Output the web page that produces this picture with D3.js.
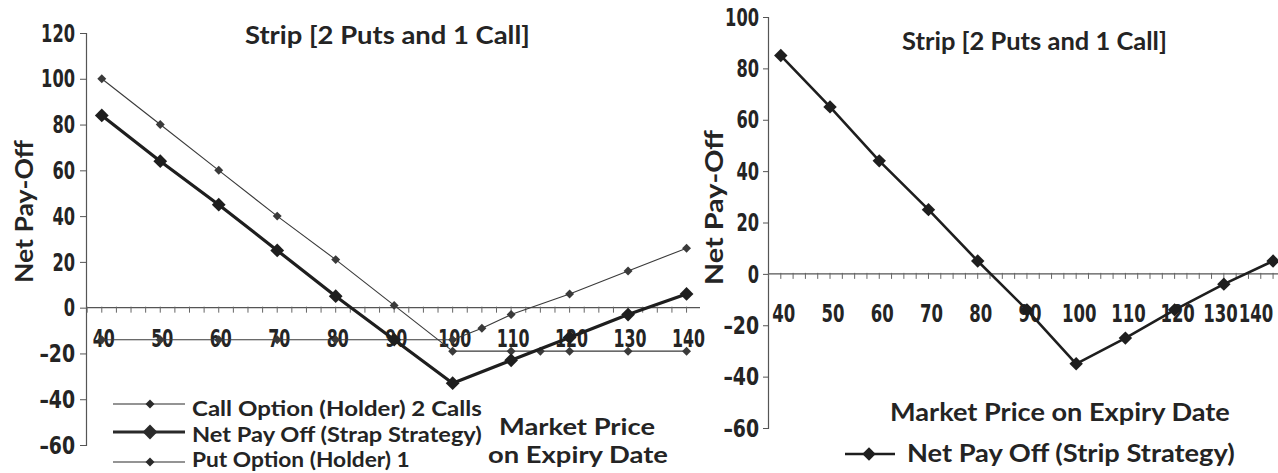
<!DOCTYPE html>
<html><head><meta charset="utf-8">
<script src="https://cdn.jsdelivr.net/npm/d3@7"></script>
<style>html,body{margin:0;padding:0;background:#fff;} svg{display:block;}</style>
</head><body>
<svg id="chart" width="1278" height="473"></svg>
<script>
// ---------- data ----------
const priceTicks = [40,50,60,70,80,90,100,110,120,130,140];
const yTicksLeft = [120,100,80,60,40,20,0,-20,-40,-60];
const yTicksRight = [100,80,60,40,20,0,-20,-40,-60];

const putPrices  = [40,50,60,70,80,90,100,110,115,120,130,140];
const putPayoff  = [100,80,60,40,21,1,-19,-19,-19,-19,-19,-19];
const callPrices = [40,50,60,70,80,90,100,105,110,120,130,140];
const callPayoff = [-14,-14,-14,-14,-14,-14,-14,-9,-3,6,16,26];
const netPrices  = [40,50,60,70,80,90,100,110,120,130,140];
const netPayoffLeft  = [84,64,45,25,5,-14,-33,-23,-13,-3,6];
const netPayoffRight = [85,65,44,25,5,-14,-35,-25,-14,-4,5];

const chartTitle = "Strip [2 Puts and 1 Call]";
const yLabel = "Net Pay-Off";
const legendLeft = ["Call Option (Holder) 2 Calls","Net Pay Off (Strap Strategy)","Put Option (Holder) 1"];
const xLabelLeft = ["Market Price","on Expiry Date"];
const xLabelRight = "Market Price on Expiry Date";
const legendRight = "Net Pay Off (Strip Strategy)";

// ---------- styles ----------
const TXT = "#242424";
const LBL_FONT = "Lato,'Open Sans',sans-serif";
const NUM_FONT = "'DejaVu Sans Condensed','DejaVu Sans',sans-serif";
const fmt = d => d < 0 ? "\u2013" + Math.abs(d) : String(d);
const numLen = s => s.replace("\u2013", "").length * 11.3 + (s.includes("\u2013") ? 13 : 0);

const svg = d3.select("#chart");
svg.append("rect").attr("width",1278).attr("height",473).attr("fill","#fff");

// text squeezed horizontally (via transform) to a target width
function fitText(g, str, x, y, family, size, target, anchor = "start", rotate = false) {
  const t = g.append("text")
    .attr("x", 0).attr("y", 0)
    .attr("font-family", family).attr("font-weight", 700)
    .attr("font-size", size).attr("fill", TXT)
    .attr("text-anchor", anchor)
    .text(str);
  const nat = t.node().getComputedTextLength();
  const sx = target ? target / nat : 1;
  t.attr("transform", `translate(${x},${y})${rotate ? " rotate(-90)" : ""} scale(${sx},1)`);
  return t;
}
const label = (g, str, x, y, size, len, rotate = false) => fitText(g, str, x, y, LBL_FONT, size, len, "start", rotate);

const diamond = area => d3.symbol().type(d3.symbolSquare).size(area);

function series(g, x, y, xs, ys, opt) {
  const pts = xs.map((v, i) => [v, ys[i]]);
  g.append("path").datum(pts)
    .attr("fill", "none").attr("stroke", opt.color).attr("stroke-width", opt.width)
    .attr("stroke-linejoin", "round")
    .attr("d", d3.line().x(d => x(d[0])).y(d => y(d[1])));
  g.selectAll(null).data(pts).enter().append("path")
    .attr("d", diamond(opt.marker)())
    .attr("fill", opt.color)
    .attr("transform", d => `translate(${x(d[0])},${y(d[1])}) rotate(45)`);
}

function axes(g, x, y, yTicks, o) {
  const [x0, x1] = x.range();
  // y axis (line + tick marks from d3.axisLeft, labels fitted)
  const ya = g.append("g").attr("transform", `translate(${x0},0)`)
    .call(d3.axisLeft(y).tickValues(yTicks).tickSize(o.yTickSize).tickFormat(""));
  ya.select(".domain").attr("stroke", "#555").attr("stroke-width", 1.2);
  ya.selectAll(".tick line").attr("stroke", "#555");
  yTicks.forEach(d => {
    fitText(g, fmt(d), x0 - o.yTickSize - o.yPad, y(d) + o.yFont * 0.36, NUM_FONT, o.yFont, numLen(fmt(d)), "end");
  });
  // x axis line at y=0
  const y0 = y(0);
  g.append("line").attr("x1", x0).attr("x2", x1).attr("y1", y0).attr("y2", y0)
    .attr("stroke", "#555").attr("stroke-width", 1.2);
  const minor = d3.range(37.5, 142.6, 2.5).filter(v => x(v) >= x0 && x(v) <= x1);
  g.selectAll(null).data(minor).enter().append("line")
    .attr("x1", d => x(d)).attr("x2", d => x(d))
    .attr("y1", y0 - 1).attr("y2", y0 + 5)
    .attr("stroke", "#666").attr("stroke-width", 1);
  // tick label positions from the scale, squeezed leftwards near the right edge
  const widths = priceTicks.map(d => String(d).length * o.digitW);
  const pos = priceTicks.map(d => x(d) + o.xShift);
  pos[pos.length - 1] = Math.min(pos[pos.length - 1], o.maxRight);
  for (let i = pos.length - 2; i >= 0; i--) {
    pos[i] = Math.min(pos[i], pos[i + 1] - (widths[i] + widths[i + 1]) / 2 - 1);
  }
  priceTicks.forEach((d, i) => fitText(g, String(d), pos[i], o.xLabelY, NUM_FONT, o.xFont, widths[i], "middle"));
}

// ---------- left chart ----------
{
  const g = svg.append("g");
  const x = d3.scaleLinear().domain([37.3, 142.3]).range([86, 700]);
  const y = d3.scaleLinear().domain([-60, 120]).range([445, 33]);
  axes(g, x, y, yTicksLeft, {yTickSize: 6, yPad: 5, yFont: 24, xFont: 25, xLabelY: 347, xShift: 2, maxRight: 2000, digitW: 11});

  series(g, x, y, callPrices, callPayoff, {color: "#3a3a3a", width: 1.1, marker: 40});
  series(g, x, y, putPrices, putPayoff, {color: "#3a3a3a", width: 1.1, marker: 40});
  series(g, x, y, netPrices, netPayoffLeft, {color: "#1e1e1e", width: 3.2, marker: 95});

  label(g, chartTitle, 245, 44, 25, 285);
  label(g, yLabel, 33, 283, 25, 143, true);

  // legend
  const legY = [404, 432, 462];
  const legBase = [416, 442, 467];
  const legStyle = [{w: 1.1, m: 40}, {w: 3.2, m: 110}, {w: 1.1, m: 40}];
  const legLen = [290, 290, 218];
  legendLeft.forEach((t, i) => {
    g.append("line").attr("x1", 113).attr("x2", 185).attr("y1", legY[i]).attr("y2", legY[i])
      .attr("stroke", "#2a2a2a").attr("stroke-width", legStyle[i].w);
    g.append("path").attr("d", diamond(legStyle[i].m)()).attr("fill", "#2a2a2a")
      .attr("transform", `translate(150,${legY[i]}) rotate(45)`);
    label(g, t, 192, legBase[i], 20.5, legLen[i]);
  });
  label(g, xLabelLeft[0], 499, 435, 23, 156);
  label(g, xLabelLeft[1], 488, 463, 23, 180);
}

// ---------- right chart ----------
{
  const g = svg.append("g");
  const x = d3.scaleLinear().domain([37.4, 141]).range([768, 1278]);
  const y = d3.scaleLinear().domain([-60, 100]).range([428, 17]);
  axes(g, x, y, yTicksRight, {yTickSize: 5, yPad: 4, yFont: 24, xFont: 25, xLabelY: 322, xShift: 3, maxRight: 1256, digitW: 11.5});

  series(g, x, y, netPrices, netPayoffRight, {color: "#1e1e1e", width: 2.6, marker: 90});

  label(g, chartTitle, 902, 50, 24, 265);
  label(g, yLabel, 723, 285, 24, 155, true);
  label(g, xLabelRight, 890, 421, 25, 340);

  g.append("line").attr("x1", 845).attr("x2", 895).attr("y1", 454).attr("y2", 454)
    .attr("stroke", "#1e1e1e").attr("stroke-width", 2.6);
  g.append("path").attr("d", diamond(90)()).attr("fill", "#1e1e1e")
    .attr("transform", "translate(869,454) rotate(45)");
  label(g, legendRight, 907, 462, 25, 328);
}
</script>
</body></html>
